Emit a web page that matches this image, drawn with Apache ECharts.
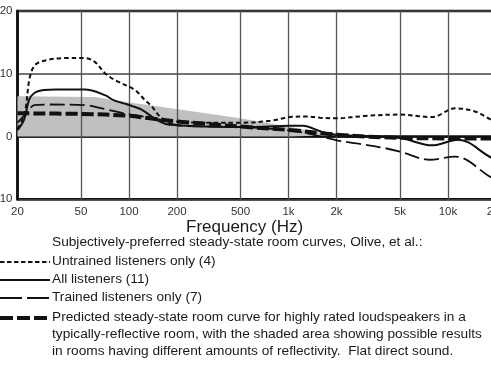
<!DOCTYPE html>
<html>
<head>
<meta charset="utf-8">
<script src="https://cdn.jsdelivr.net/npm/echarts@6/dist/echarts.min.js"></script>
<style>
html,body{margin:0;padding:0;background:#fff;}
#c{width:491px;height:370px;}
</style>
</head>
<body>
<div id="c"></div>
<script>
// ---- data ----
const gridFreqs = [20, 50, 100, 200, 500, 1000, 2000, 5000, 10000, 20000];
const tickLabels = ['20', '50', '100', '200', '500', '1k', '2k', '5k', '10k', '20k'];
const yTicks = [-10, 0, 10, 20];

const untrainedF = [20, 21.3, 22.5, 23.7, 25.4, 28.5, 39.7, 53, 61, 70.7, 81.6, 109, 126, 139, 150, 161, 200, 300, 500, 766, 1022, 1306, 1577, 1958, 3105, 5000, 7940, 11070, 14760, 18600, 20000];
const untrainedDb = [1.2, 2.5, 4.5, 9.0, 11.2, 12.0, 12.5, 12.5, 11.9, 10.1, 9.0, 7.4, 5.8, 4.8, 3.7, 2.9, 2.4, 2.2, 2.2, 2.5, 3.1, 3.2, 3.0, 2.9, 3.3, 3.5, 3.1, 4.5, 4.0, 2.7, 2.4];

const allF = [20, 22, 23.6, 25.4, 29.3, 35, 53, 70.7, 80, 95, 106, 120, 135, 150, 170, 200, 300, 574, 1000, 1230, 1600, 2014, 5000, 7940, 11560, 18500, 20000];
const allDb = [1.0, 2.7, 5.8, 6.9, 7.4, 7.5, 7.5, 6.6, 5.8, 5.2, 4.8, 4.3, 3.4, 2.6, 2.0, 1.8, 1.6, 1.5, 1.7, 1.7, 0.8, 0.3, -0.25, -1.4, -0.5, -3.3, -3.6];

const trainedF = [20, 23.3, 25.4, 31, 53, 70, 97, 122, 150, 180, 220, 500, 1000, 1300, 2014, 2690, 4030, 5000, 7710, 11070, 18600, 20000];
const trainedDb = [2.2, 4.0, 5.0, 5.1, 5.0, 4.4, 3.6, 3.2, 2.8, 2.1, 1.7, 1.5, 1.0, 0.5, -0.6, -1.1, -1.85, -2.4, -3.7, -3.2, -6.5, -6.9];

const predictedF = [20, 50, 100, 135, 200, 280, 500, 1000, 2000, 3000, 5000, 10000, 20000];
const predictedDb = [3.7, 3.6, 3.3, 2.9, 2.4, 2.1, 1.6, 1.05, 0.3, 0.0, -0.2, -0.3, -0.3];

const shadeF = [20, 61, 109, 135, 500, 1000, 1900];
const shadeDb = [6.4, 6.3, 5.3, 5.0, 2.9, 1.6, 0.2];

const legendTexts = [
  'Subjectively-preferred steady-state room curves, Olive, et al.:',
  'Untrained listeners only (4)',
  'All listeners (11)',
  'Trained listeners only (7)',
  'Predicted steady-state room curve for highly rated loudspeakers in a',
  'typically-reflective room, with the shaded area showing possible results',
  'in rooms having different amounts of reflectivity.  Flat direct sound.'
];
const xTitle = 'Frequency (Hz)';

// ---- build ----
const zip = (f, d) => f.map((v, i) => [v, d[i]]);
const FONT = '"Liberation Sans", Arial, sans-serif';
const chart = echarts.init(document.getElementById('c'), null, {renderer: 'canvas'});

const legendY = [243, 262, 280, 298, 318, 335, 352];
const graphics = [];
legendTexts.forEach((t, i) => {
  graphics.push({type: 'text', left: 52, top: legendY[i] - 8, style: {text: t, font: '13.7px ' + FONT, fill: '#1a1a1a'}, silent: true});
});
const sampleStyles = [
  {y: 262, lineWidth: 2, lineDash: [4.5, 2.5]},
  {y: 280, lineWidth: 2, lineDash: null},
  {y: 298, lineWidth: 2, lineDash: [22, 5]},
  {y: 318, lineWidth: 4, lineDash: [13, 4]}
];
sampleStyles.forEach(s => {
  graphics.push({type: 'line', shape: {x1: 0, y1: s.y, x2: 50, y2: s.y}, style: {stroke: '#111', lineWidth: s.lineWidth, lineDash: s.lineDash}, silent: true});
});
graphics.push({type: 'text', left: 186, top: 219, style: {text: xTitle, font: '17px ' + FONT, fill: '#1a1a1a'}, silent: true});

const lineSeries = (name, data, width, dash, z) => ({
  name, type: 'line', data, showSymbol: false, symbol: 'none', smooth: 0.35, z,
  lineStyle: {color: '#111', width, type: dash || 'solid'}, silent: true, animation: false
});

chart.setOption({
  animation: false,
  backgroundColor: '#fff',
  grid: {left: 17.5, right: -5, top: 11, bottom: 170.7, outerBoundsMode: 'none', containLabel: false,
    show: true, borderColor: '#111', borderWidth: 2.5, backgroundColor: 'transparent'},
  xAxis: {
    type: 'log', logBase: 10, min: 20, max: 20000,
    axisLine: {show: true, lineStyle: {color: '#111', width: 2.5}},
    axisTick: {show: false},
    splitLine: {show: false},
    minorSplitLine: {show: false},
    axisLabel: {
      customValues: gridFreqs, margin: 7, fontSize: 11.5, color: '#333', fontFamily: 'Liberation Sans, Arial, sans-serif',
      formatter: v => { const i = gridFreqs.findIndex(g => Math.abs(g - v) / g < 0.01); return i >= 0 ? tickLabels[i] : ''; }
    }
  },
  yAxis: {
    type: 'value', min: -10, max: 20, interval: 10,
    axisLine: {show: true, lineStyle: {color: '#111', width: 2.5}},
    axisTick: {show: false},
    splitLine: {show: true, lineStyle: {color: '#444', width: 1.5}},
    axisLabel: {margin: 5, fontSize: 11.5, color: '#333', fontFamily: 'Liberation Sans, Arial, sans-serif'}
  },
  graphic: graphics,
  series: [
    {
      name: 'grid', type: 'line', data: [[20, -20]], symbol: 'none', lineStyle: {width: 0}, z: 1, silent: true,
      markLine: {silent: true, symbol: ['none', 'none'], label: {show: false}, animation: false,
        lineStyle: {color: '#555', width: 1.3, type: 'solid'},
        data: gridFreqs.slice(1, -1).map(f => ({xAxis: f}))}
    },
    {
      name: 'shade', type: 'line', data: zip(shadeF, shadeDb), symbol: 'none', z: 2, silent: true,
      lineStyle: {width: 0}, areaStyle: {color: '#c0c0c0', opacity: 1}
    },
    lineSeries('Untrained listeners only (4)', zip(untrainedF, untrainedDb), 2, [4.5, 3], 5),
    lineSeries('All listeners (11)', zip(allF, allDb), 2, null, 5),
    lineSeries('Trained listeners only (7)', zip(trainedF, trainedDb), 1.8, [15, 5], 5),
    lineSeries('Predicted', zip(predictedF, predictedDb), 4, [12, 4], 6)
  ]
});
</script>
</body>
</html>
